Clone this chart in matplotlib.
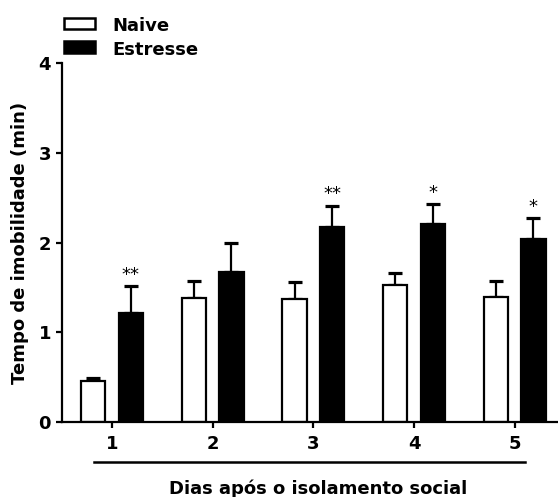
import matplotlib
matplotlib.use("Agg")
import matplotlib.pyplot as plt
import numpy as np
from matplotlib.lines import Line2D
from matplotlib.patches import Rectangle

plt.rcParams['font.family'] = ['DejaVu Sans']
plt.rcParams['font.weight'] = 'bold'

days = ["1", "2", "3", "4", "5"]
naive = [0.46, 1.38, 1.37, 1.53, 1.39]
naive_err = [0.03, 0.19, 0.19, 0.13, 0.18]
stress = [1.21, 1.67, 2.17, 2.21, 2.04]
stress_err = [0.30, 0.33, 0.24, 0.22, 0.23]
signif = ["**", "", "**", "*", "*"]
yticks = [0, 1, 2, 3, 4]

W, H = 558, 497
fig = plt.figure(figsize=(W / 100, H / 100), dpi=100)
ax = fig.add_axes([61.5 / W, (H - 422) / H, (W - 61.5) / W, 359 / H])

x = np.arange(1, len(days) + 1)
w = 0.242
off = 0.186
lw = 1.6

ax.bar(x - off, naive, w, color='white', edgecolor='black', linewidth=lw, zorder=2)
ax.bar(x + off, stress, w, color='black', edgecolor='black', linewidth=lw, zorder=2)
ax.errorbar(x - off, naive, yerr=[np.zeros(len(x)), naive_err], fmt='none', ecolor='black',
            elinewidth=1.6, capsize=4.8, capthick=2.3, zorder=1)
ax.errorbar(x + off, stress, yerr=[np.zeros(len(x)), stress_err], fmt='none', ecolor='black',
            elinewidth=1.6, capsize=4.8, capthick=2.3, zorder=1)

for xi, v, e, s in zip(x, stress, stress_err, signif):
    if s:
        ax.text(xi + off, v + e + 0.07, s, ha='center', va='baseline', fontsize=13,
                fontweight='normal')

ax.set_xlim(0.498, 5.43)
ax.set_ylim(0, 4)
ax.set_yticks(yticks)
ax.set_xticks(x)
ax.set_xticklabels(days)
ax.tick_params(axis='both', labelsize=13, width=1.6, length=4.5, direction='out')
ax.tick_params(axis='x', pad=5)
ax.tick_params(axis='y', pad=3)
for t in ax.get_xticklabels() + ax.get_yticklabels():
    t.set_fontweight('bold')
ax.spines['top'].set_visible(False)
ax.spines['right'].set_visible(False)
ax.spines['left'].set_linewidth(1.6)
ax.spines['bottom'].set_linewidth(1.6)

ax.set_ylabel("Tempo de imobilidade (min)", fontsize=13, fontweight='bold')
ax.yaxis.set_label_coords((29 - 61.5) / (W - 61.5), 0.5)

# underline and x label
fig.add_artist(Line2D([94 / W, 525 / W], [1 - 462 / H, 1 - 462 / H], color='black', lw=1.8))
fig.text(318 / W, 1 - 494 / H, "Dias após o isolamento social", ha='center', va='baseline',
         fontsize=13, fontweight='bold')

# legend
fig.add_artist(Rectangle((64 / W, 1 - 29 / H), 31 / W, 11 / H, facecolor='white',
                         edgecolor='black', lw=1.8, transform=fig.transFigure))
fig.add_artist(Rectangle((64 / W, 1 - 53 / H), 31 / W, 12 / H, facecolor='black',
                         edgecolor='black', lw=1.8, transform=fig.transFigure))
fig.text(112 / W, 1 - 31 / H, "Naive", ha='left', va='baseline', fontsize=13, fontweight='bold')
fig.text(112 / W, 1 - 55 / H, "Estresse", ha='left', va='baseline', fontsize=13, fontweight='bold')

fig.savefig("out.png", dpi=100)
